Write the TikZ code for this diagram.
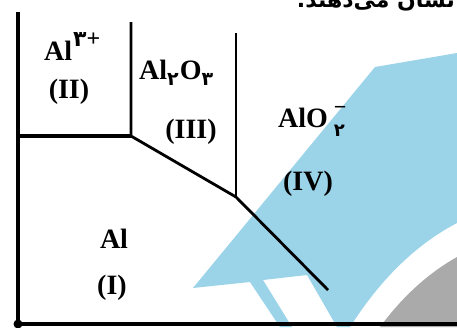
\documentclass[tikz,border=0pt]{standalone}
\usepackage{fontspec}
\setmainfont{Liberation Serif}
\newfontfamily\fa[Script=Arabic]{DejaVu Sans}
\TeXXeTstate=1
\definecolor{wmblue}{RGB}{155,211,232}
\definecolor{wmgrey}{RGB}{170,170,170}
\newcommand{\fadig}[2]{{\fa\bfseries\fontsize{#1}{#1}\selectfont #2}}
\begin{document}
\begin{tikzpicture}[x=1pt,y=-1pt,
  axis/.style={line width=3.4pt},
  bound/.style={line width=2.8pt},
  lab/.style={font=\bfseries\fontsize{28}{30}\selectfont, inner sep=0pt}]
\useasboundingbox (0,0) rectangle (457,327);
\clip (0,0) rectangle (457,327);
% watermark
\fill[wmblue] (457,53) -- (375,67) -- (193,288) -- (250,282) -- (280,327) -- (292,327) -- (263,280) -- (307,275) -- (337,327) -- (350,327) .. controls (380,280) and (415,245) .. (457,223) -- cycle;
\fill[wmgrey] (380,327) .. controls (400,300) and (425,275) .. (457,257) -- (457,327) -- cycle;
% top text (clipped)
\node[anchor=base east, inner sep=0pt, font=\fa\bfseries\fontsize{22}{24}\selectfont] (top) at (455,7) {\beginR نشان می‌دهند.\endR};
% coordinates
\coordinate (A) at (18,12);
\coordinate (O) at (18,324);
\coordinate (X) at (457,324);
\coordinate (H) at (18,136);
\coordinate (B) at (131,22);
\coordinate (J1) at (131,136);
\coordinate (C) at (236,33);
\coordinate (J2) at (236,197);
\coordinate (E) at (328,290);
% lines
\draw[axis] (A) -- (O) -- (X);
\draw[axis] (H) -- (J1);
\draw[bound] (B) -- (J1) -- (J2) -- (E);
\draw[bound] (C) -- (J2);
\fill (O) circle (4.5pt);
% labels
\node[lab, anchor=base west] (al3) at (44,60) {Al\kern1pt\raisebox{14pt}{\fadig{22}{۳}\fontsize{24}{24}\selectfont +}};
\node[lab] (ii) at (69,92) {(II)};
\node[lab, anchor=base west] (al2o3) at (139,79) {Al\raisebox{-6pt}{\fadig{19}{۲}}\kern1pt O\raisebox{-6pt}{\fadig{19}{۳}}};
\node[lab] (iii) at (191,132) {(III)};
\node[lab, anchor=base west] (alo2) at (278,127) {AlO\kern6pt\rlap{\raisebox{-9pt}{\fadig{18}{۲}}}\raisebox{13pt}{\fontsize{22}{22}\selectfont −}};
\node[lab] (iv) at (308,184) {(IV)};
\node[lab] (al) at (114,239) {Al};
\node[lab] (i) at (112,288) {(I)};
\end{tikzpicture}
\end{document}
